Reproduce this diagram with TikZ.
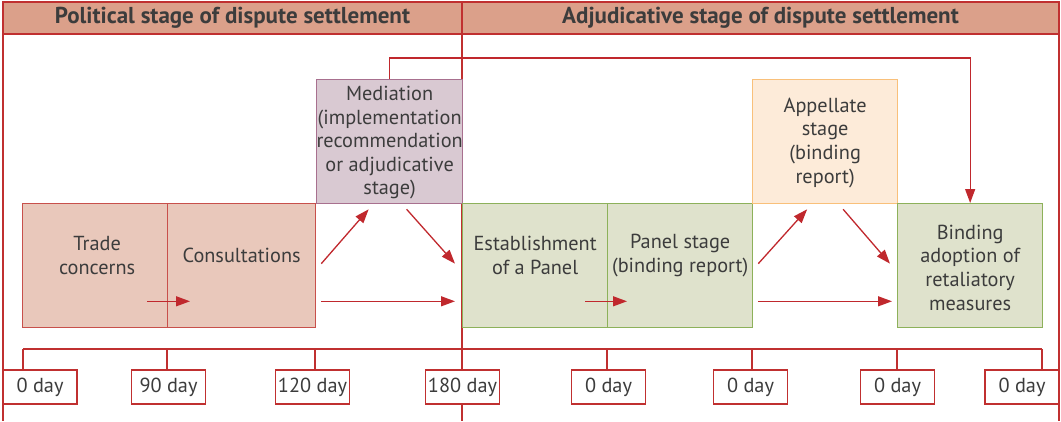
\documentclass[tikz,border=0pt]{standalone}
\usepackage{fontspec}
\setmainfont{PT Sans}
\usetikzlibrary{arrows.meta,calc}
\definecolor{hdrfill}{RGB}{219,160,138}
\definecolor{redline}{RGB}{192,48,48}
\definecolor{tradefill}{RGB}{233,200,187}
\definecolor{tradedraw}{RGB}{200,80,75}
\definecolor{medfill}{RGB}{217,201,210}
\definecolor{meddraw}{RGB}{168,112,143}
\definecolor{appfill}{RGB}{253,235,217}
\definecolor{appdraw}{RGB}{249,192,122}
\definecolor{grnfill}{RGB}{223,226,204}
\definecolor{grndraw}{RGB}{141,177,90}
\definecolor{txt}{RGB}{60,60,60}
\definecolor{arrowc}{RGB}{192,40,45}
\begin{document}
\begin{tikzpicture}[x=1pt,y=-1pt,
  frame/.style={draw=redline,line width=1.3pt},
  stagebox/.style={line width=1.3pt,minimum height=124pt,inner sep=0pt,anchor=north west},
  redbox/.style={stagebox,draw=tradedraw,fill=tradefill},
  medbox/.style={stagebox,draw=meddraw,fill=medfill},
  appbox/.style={stagebox,draw=appdraw,fill=appfill},
  grnbox/.style={stagebox,draw=grndraw,fill=grnfill},
  lbl/.style={text=txt,align=center,inner sep=0pt,font=\fontsize{20.3}{23.6}\selectfont},
  hdrtxt/.style={text=txt,inner sep=0pt,font=\fontsize{23}{26}\selectfont\bfseries},
  daybox/.style={draw=redline,fill=white,line width=1.3pt,minimum width=74pt,minimum height=34pt,inner sep=0pt,text=txt,font=\fontsize{20.3}{24}\selectfont},
  arr/.style={draw=arrowc,line width=1.3pt,-{Triangle[length=14pt,width=10pt]}}]
\useasboundingbox (0,0) rectangle (1061,421);
% frame and header
\draw[frame,fill=hdrfill] (3,2) rectangle (1059,34);
\draw[frame] (3,2) -- (3,421);
\draw[frame] (1059,2) -- (1059,421);
\draw[frame] (462,2) -- (462,421);
\node[hdrtxt] (h1) at (232.5,18) {Political stage of dispute settlement};
\node[hdrtxt] (h2) at (760.5,18) {Adjudicative stage of dispute settlement};
% stage boxes
\node[redbox,minimum width=145pt] (trade) at (22,203) {};
\node[redbox,minimum width=148pt] (cons) at (167,203) {};
\node[medbox,minimum width=146pt] (med) at (316,79) {};
\node[grnbox,minimum width=145pt] (est) at (462,203) {};
\node[grnbox,minimum width=145pt] (panel) at (607,203) {};
\node[appbox,minimum width=145pt] (app) at (752,79) {};
\node[grnbox,minimum width=145pt] (bind) at (897,203) {};
% texts
\node[lbl] (tradeT) at ($(trade.center)+(2,-10)$) {Trade\\concerns};
\node[lbl] (consT) at ($(cons.center)+(0,-10)$) {Consultations};
\node[lbl] (medT) at ($(med.center)+(0,1)$) {Mediation\\(implementation\\recommendation\\or adjudicative\\stage)};
\node[lbl] (estT) at ($(est.center)+(0,-10)$) {Establishment\\of a Panel};
\node[lbl] (panelT) at ($(panel.center)+(0,-10)$) {Panel stage\\(binding report)};
\node[lbl] (appT) at ($(app.center)+(0,1)$) {Appellate\\stage\\(binding\\report)};
\node[lbl] (bindT) at ($(bind.center)+(0,2)$) {Binding\\adoption of\\retaliatory\\measures};
% arrows
\draw[arr] ($(trade.south east)+(-21,-27)$) -- ($(cons.south west)+(23,-27)$);
\draw[arr] ($(cons.south east)+(5,-27)$) -- ($(est.south west)+(-7,-27)$);
\draw[arr] ($(cons.east)+(5,-2)$) -- ($(med.south)+(-21,5)$);
\draw[arr] ($(med.south)+(17,5)$) -- ($(est.west)+(-7,-2)$);
\draw[arr] ($(est.south east)+(-23,-27)$) -- ($(panel.south west)+(20,-27)$);
\draw[arr] ($(panel.south east)+(5,-27)$) -- ($(bind.south west)+(-5,-27)$);
\draw[arr] ($(panel.east)+(5,-2)$) -- ($(app.south)+(-18,5)$);
\draw[arr] ($(app.south)+(18,5)$) -- ($(bind.west)+(-7,-2)$);
\draw[arr] (med.north) -- ++(0,-21) -| (bind.north);
% timeline
\coordinate (t0) at (23,349);
\coordinate (t1) at (167,349);
\coordinate (t2) at (315,349);
\coordinate (t3) at (462,349);
\coordinate (t4) at (607,349);
\coordinate (t5) at (752,349);
\coordinate (t6) at (897,349);
\coordinate (t7) at (1042,349);
\node[daybox] (d0) at (40,387) {0 day};
\node[daybox] (d1) at (168.5,387) {90 day};
\node[daybox] (d2) at (312.5,387) {120 day};
\node[daybox] (d3) at (462.5,387) {180 day};
\node[daybox] (d4) at (608.5,387) {0 day};
\node[daybox] (d5) at (750.5,387) {0 day};
\node[daybox] (d6) at (897.5,387) {0 day};
\node[daybox] (d7) at (1022,387) {0 day};
\draw[frame] (t0) -- (t7);
\foreach \i in {0,1,2,4,5,6,7} {\draw[frame] (t\i) -- (t\i |- d\i.north);}
\end{tikzpicture}
\end{document}
